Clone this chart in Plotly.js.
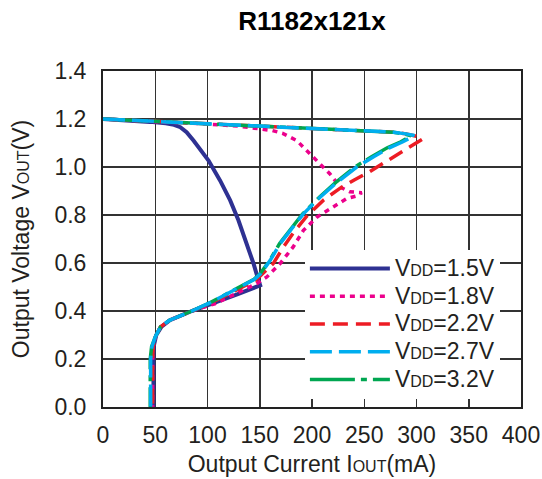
<!DOCTYPE html>
<html>
<head>
<meta charset="utf-8">
<script src="https://cdn.plot.ly/plotly-3.0.1.min.js"></script>
<style>html,body{margin:0;padding:0;background:#fff;}#chart{width:542px;height:479px;}</style>
</head>
<body>
<div id="chart"></div>
<script>
// Legend labels
const vddLabels = ["1.5V", "1.8V", "2.2V", "2.7V", "3.2V"];

// VDD = 1.5 V
const iout15 = [0, 25, 45, 60, 68, 74, 80, 86.6, 94, 101, 112, 121.7, 129.6, 137.7, 144, 147.8, 150.4, 129, 107, 85, 64, 56, 51, 48.6, 48.3, 48.3];
const vout15 = [1.2, 1.195, 1.188, 1.182, 1.176, 1.166, 1.145, 1.11, 1.07, 1.027, 0.944, 0.861, 0.778, 0.681, 0.598, 0.542, 0.507, 0.47, 0.435, 0.4, 0.362, 0.335, 0.3, 0.255, 0.2, 0];

// VDD = 1.8 V
const iout18 = [0, 50, 100, 130, 150, 162, 172, 180, 185.5, 198, 207.7, 217, 227, 236, 247.6, 243, 233, 217, 204.6, 191.8, 182, 169.5, 156.8, 147, 134, 107, 85, 64, 55, 50, 48, 47.5, 47.5];
const vout18 = [1.2, 1.19, 1.179, 1.17, 1.159, 1.152, 1.14, 1.124, 1.11, 1.055, 1.013, 0.972, 0.916, 0.897, 0.893, 0.88, 0.868, 0.826, 0.791, 0.736, 0.667, 0.598, 0.542, 0.514, 0.486, 0.43, 0.4, 0.362, 0.334, 0.29, 0.25, 0.2, 0];

// VDD = 2.2 V
const iout22 = [0, 50, 100, 150, 200, 250, 278, 290, 300, 306, 298, 285, 270, 255, 240, 227, 211, 195, 182, 172.7, 163, 153.5, 146, 128, 103, 85, 64, 55, 50, 48, 47.5, 47.5];
const vout22 = [1.2, 1.19, 1.18, 1.172, 1.163, 1.153, 1.145, 1.138, 1.128, 1.117, 1.095, 1.06, 1.02, 0.98, 0.945, 0.912, 0.862, 0.795, 0.725, 0.667, 0.598, 0.556, 0.528, 0.488, 0.433, 0.4, 0.362, 0.334, 0.292, 0.25, 0.2, 0];

// VDD = 2.7 V
const iout27 = [0, 50, 100, 150, 200, 250, 278, 290, 298, 287, 274, 259, 242.8, 223.7, 207.7, 191.8, 179, 169.5, 160, 151, 145, 128, 102.6, 85, 64, 55, 50, 46.8, 45.6, 45.6];
const vout27 = [1.2, 1.19, 1.18, 1.172, 1.163, 1.153, 1.145, 1.138, 1.131, 1.105, 1.08, 1.043, 1.0, 0.935, 0.874, 0.805, 0.736, 0.681, 0.611, 0.556, 0.532, 0.494, 0.435, 0.4, 0.362, 0.334, 0.292, 0.251, 0.2, 0];

// VDD = 3.2 V
const iout32 = [0, 50, 100, 150, 200, 250, 278, 288, 295, 285, 272, 257, 241, 222.5, 207, 191, 178.5, 169, 159.5, 150.5, 144.5, 128, 102.6, 85, 64, 55, 50, 46.5, 45.2, 45.2];
const vout32 = [1.2, 1.19, 1.18, 1.172, 1.163, 1.153, 1.145, 1.138, 1.13, 1.105, 1.08, 1.043, 1.0, 0.935, 0.874, 0.805, 0.736, 0.681, 0.611, 0.556, 0.532, 0.494, 0.435, 0.4, 0.362, 0.334, 0.292, 0.251, 0.2, 0];

// Axis ticks
const xTickVals = [0, 50, 100, 150, 200, 250, 300, 350, 400];
const yTickVals = [0.0, 0.2, 0.4, 0.6, 0.8, 1.0, 1.2, 1.4];

const FONT = "'Liberation Sans', Arial, Helvetica, sans-serif";
const big = s => "<span style='font-size:23px'>" + s + "</span>";
const small = s => "<span style='font-size:16px'>" + s + "</span>";
const legendName = v => big("V") + small("DD") + big("=" + v);

const traces = [
  {x: iout15, y: vout15, name: legendName(vddLabels[0]), legendrank: 1, line: {color: '#2e3192', width: 4, dash: 'solid'}},
  {x: iout18, y: vout18, name: legendName(vddLabels[1]), legendrank: 2, line: {color: '#ec008c', width: 3.5, dash: '5px,5px'}},
  {x: iout22, y: vout22, name: legendName(vddLabels[2]), legendrank: 3, line: {color: '#ed1c24', width: 3.5, dash: '15px,8px'}},
  {x: iout32, y: vout32, name: legendName(vddLabels[4]), legendrank: 5, line: {color: '#00a651', width: 3.5, dash: '45px,6px,6px,6px'}},
  {x: iout27, y: vout27, name: legendName(vddLabels[3]), legendrank: 4, line: {color: '#00aeef', width: 3.5, dash: '22px,7px'}}
].map(t => Object.assign({type: 'scatter', mode: 'lines', hoverinfo: 'skip'}, t));

const layout = {
  width: 542, height: 479,
  margin: {l: 103, r: 21, t: 71, b: 72},
  paper_bgcolor: '#fff', plot_bgcolor: '#fff',
  font: {family: FONT, color: '#231f20', size: 23},
  title: {text: '<b>R1182x121x</b>', font: {family: FONT, size: 26, color: '#000'}, x: 0.5, xref: 'paper', y: 1 - 21 / 479, yref: 'container', yanchor: 'middle'},
  xaxis: {
    range: [0, 400], tickvals: xTickVals, ticktext: xTickVals.map(String),
    showgrid: true, gridcolor: '#333', gridwidth: 1.5, zeroline: false,
    showline: true, mirror: true, linecolor: '#222', linewidth: 2, ticks: '',
    tickfont: {size: 23}, ticklabelstandoff: 6, fixedrange: true,
    title: {text: "Output Current I<span style='font-size:16px'>OUT</span>(mA)", font: {size: 23}, standoff: 9}
  },
  yaxis: {
    range: [0, 1.4], tickvals: yTickVals, ticktext: yTickVals.map(v => v.toFixed(1)),
    showgrid: true, gridcolor: '#333', gridwidth: 1.5, zeroline: false,
    showline: true, mirror: true, linecolor: '#222', linewidth: 2, ticks: '',
    tickfont: {size: 23}, ticklabelstandoff: 10, fixedrange: true,
    title: {text: "Output Voltage V<span style='font-size:16px'>OUT</span>(V)", font: {size: 23}, standoff: 18}
  },
  showlegend: true,
  legend: {
    x: 0.483, y: 0.468, xanchor: 'left', yanchor: 'top',
    bgcolor: '#fff', borderwidth: 0, font: {size: 19}, itemwidth: 80,
    traceorder: 'normal'
  }
};

Plotly.newPlot('chart', traces, layout, {displayModeBar: false, staticPlot: true});
</script>
</body>
</html>
